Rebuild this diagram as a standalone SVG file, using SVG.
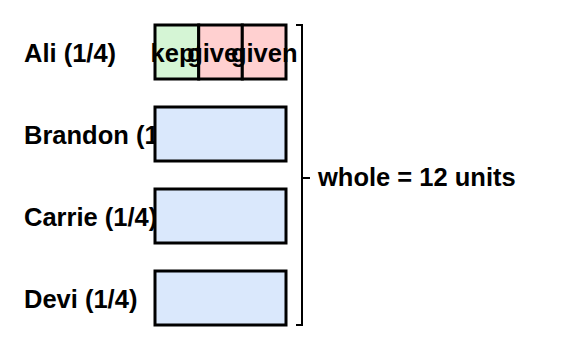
<svg xmlns="http://www.w3.org/2000/svg" width="565" height="350" viewBox="0 0 565 350">
<style>
  text { font-family: "Liberation Sans", Arial, sans-serif; font-weight: bold; font-size: 25.5px; fill: #000; }
  .cell { stroke: #000; stroke-width: 3; }
  .blue { fill: #dae8fc; }
  .green { fill: #d5f5d5; }
  .red { fill: #ffd0d0; }
  .mid { text-anchor: middle; }
  .br { fill: none; stroke: #000; stroke-width: 2; }
</style>
<rect width="565" height="350" fill="#fff"/>
<g id="ali">
  <text x="24" y="62">Ali (1/4)</text>
  <rect class="cell green" x="155" y="25" width="43.7" height="54"/>
  <text class="mid" x="176.8" y="62">kept</text>
  <rect class="cell red" x="198.7" y="25" width="43.6" height="54"/>
  <text class="mid" x="220.5" y="62">given</text>
  <rect class="cell red" x="242.3" y="25" width="43.7" height="54"/>
  <text class="mid" x="264.2" y="62">given</text>
</g>
<g id="brandon">
  <text x="24" y="144">Brandon (1/4)</text>
  <rect class="cell blue" x="155" y="107" width="131" height="54"/>
</g>
<g id="carrie">
  <text x="24" y="226">Carrie (1/4)</text>
  <rect class="cell blue" x="155" y="189" width="131" height="54"/>
</g>
<g id="devi">
  <text x="24" y="308">Devi (1/4)</text>
  <rect class="cell blue" x="155" y="271" width="131" height="54"/>
</g>
<g id="connectors">
  <path class="br" d="M296,25 H302 V325 H296 M302,178 H310"/>
</g>
<g id="whole">
  <text x="318" y="186">whole = 12 units</text>
</g>
</svg>
